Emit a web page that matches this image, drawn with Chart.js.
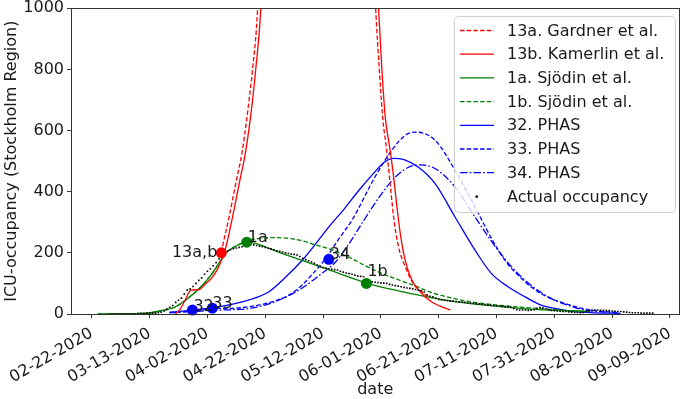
<!DOCTYPE html>
<html><head><meta charset="utf-8">
<script src="https://cdn.jsdelivr.net/npm/chart.js@4.4.1/dist/chart.umd.min.js"></script>
<style>html,body{margin:0;padding:0;background:#fff}#wrap{width:685px;height:399px}</style>
</head><body><div id="wrap"><canvas id="c" width="685" height="399"></canvas></div>
<script>
// x values are days after 02-22-2020
const tickDays = [0, 20, 40, 60, 80, 100, 120, 140, 160, 180, 200];
const tickLabels = ['02-22-2020','03-13-2020','04-02-2020','04-22-2020','05-12-2020','06-01-2020','06-21-2020','07-11-2020','07-31-2020','08-20-2020','09-09-2020'];
const yTicks = [0, 200, 400, 600, 800, 1000];

// 13a. Gardner et al. (dashed red) - the peak runs far off the top of the axes
const gardnerDays = [44.8, 45.2, 47.5, 49.8, 52.1, 54.4, 55.6, 57.3, 58.5, 97.0, 98.2, 99.4, 100.6, 102.0, 103.2, 104.4, 106.1, 108.4, 111.2, 114.7, 116.4];
const gardnerVals = [200, 220, 318, 427, 536, 699, 800, 990, 1300, 1300, 1000, 808, 645, 536, 427, 318, 220, 155, 100, 68, 57];
// 13b. Kamerlin et al. (solid red)
const kamerlinDays = [28.9, 30.5, 32.0, 34.3, 37.2, 38.9, 41.2, 43.4, 44.8, 46.4, 48.7, 51.0, 53.3, 55.6, 56.7, 58.4, 59.6, 97.8, 99.2, 100.3, 101.5, 103.2, 104.4, 105.5, 106.7, 108.4, 110.7, 114.1, 117.5, 122.2, 124.0];
const kamerlinVals = [0, 15, 40, 78, 80, 95, 115, 145, 175, 220, 318, 427, 536, 699, 800, 990, 1300, 1300, 1000, 808, 645, 536, 449, 355, 264, 176, 111, 68, 40, 19, 13];
// 1a. Sjödin et al. (solid green)
const sjodinADays = [2.1, 9.6, 18.3, 24.0, 28.6, 33.2, 37.8, 41.2, 44.7, 46.9, 50.4, 53.8, 57.0, 61.3, 65.8, 71.6, 77.4, 83.3, 88.9, 94.6, 100.2, 106.1, 111.8, 118.7, 124.3, 130.2, 141.6, 153.2, 164.6, 172.2];
const sjodinAVals = [0, 1, 2, 11, 22, 51, 89, 127, 176, 204, 225, 236, 230, 215, 198, 179, 160, 140, 121, 103, 88, 76, 64, 51, 42, 35, 24, 15, 11, 8];
// 1b. Sjödin et al. (dashed green)
const sjodinBDays = [2.1, 9.6, 18.3, 24.0, 28.6, 33.2, 37.8, 41.2, 44.7, 46.9, 50.4, 53.8, 57.9, 63.6, 68.2, 72.7, 77.4, 83.0, 88.9, 94.6, 100.2, 106.1, 111.8, 117.5, 124.3, 130.2, 141.6, 153.2, 164.6, 172.2];
const sjodinBVals = [0, 1, 2, 11, 22, 51, 89, 127, 176, 204, 225, 240, 247, 250, 247, 240, 226, 210, 186, 158, 133, 112, 92, 70, 53, 41, 28, 19, 11, 8];
// 32. PHAS (solid blue)
const phas32Days = [26.9, 34.9, 41.8, 48.7, 54.4, 61.3, 67.0, 72.8, 77.5, 82.0, 87.0, 92.0, 97.0, 101.0, 104.4, 108.0, 113.0, 118.7, 125.6, 132.5, 138.2, 144.0, 149.7, 155.4, 161.2, 166.9, 173.8, 182.9];
const phas32Vals = [5, 13, 20, 32, 46, 73, 120, 176, 230, 285, 340, 400, 455, 495, 509, 505, 480, 427, 318, 210, 133, 89, 57, 29, 17, 8, 4, 2];
// 33. PHAS (dashed blue)
const phas33Days = [26.9, 34.9, 41.7, 47.5, 54.4, 61.3, 68.2, 72.8, 75.1, 80.8, 85.4, 90.0, 98.0, 103.8, 108.5, 112.0, 118.7, 125.6, 132.5, 139.4, 144.0, 147.4, 152.0, 157.7, 163.5, 169.2, 173.8, 181.7];
const phas33Vals = [5, 10, 19, 18, 24, 37, 62, 95, 118, 180, 245, 307, 449, 536, 585, 595, 569, 471, 351, 228, 162, 128, 88, 55, 35, 19, 11, 5];
// 34. PHAS (dash-dot blue)
const phas34Days = [26.9, 34.9, 41.7, 54.4, 61.3, 67.0, 72.8, 78.5, 84.3, 89.0, 93.4, 100.3, 105.0, 110.0, 113.5, 118.7, 125.6, 132.5, 140.5, 148.5, 157.7, 164.6, 170.4, 174.9, 181.7];
const phas34Vals = [4, 8, 12, 18, 33, 55, 85, 125, 170, 230, 296, 394, 448, 482, 488, 476, 416, 318, 209, 122, 57, 29, 13, 8, 4];

// Actual ICU occupancy, one value per day starting 02-28-2020 (day 6)
const actualStartDay = 6;
const actualVals = [
  0,0,0,1,1,1,1,1,1,1,2,2,2,2,
  2,3,3,4,6,10,16,22,28,38,
  45,52,65,78,82,90,100,110,118,130,
  140,148,158,168,180,190,198,206,210,214,
  216,218,220,224,226,228,226,224,222,220,
  218,215,213,210,207,205,203,200,198,196,
  195,193,188,182,178,174,170,166,160,155,
  152,150,148,146,145,144,140,137,134,132,
  130,127,124,123,122,108,106,105,104,103,
  102,101,100,97,95,93,91,89,87,85,
  84,82,80,78,76,72,62,58,56,52,
  48,46,45,44,43,42,41,40,39,38,
  37,36,35,34,33,32,31,30,29,28,
  27,26,25,24,24,22,18,14,13,13,
  13,12,13,14,18,21,20,17,14,12,
  11,10,9,8,8,7,6,5,5,4,
  5,8,12,13,13,13,12,12,11,11,
  10,9,8,8,7,6,5,4,4,4,
  3,3,3,3,3
];

// Prediction-date markers
const markerLabels = ['13a,b', '1a', '32', '33', '34', '1b'];
const markerDays = [44.8, 53.6, 34.8, 41.7, 82.0, 95.0];
const markerVals = [200, 235, 13, 19, 179, 100];

const RED = '#ff0000', GREEN = '#008000', BLUE = '#0000ff';
const markerColors = [RED, GREEN, BLUE, BLUE, BLUE, GREEN];
const markerLabelOffsets = [[-4, 4, 'right'], [1, 0, 'left'], [1, 1, 'left'], [0, 0, 'left'], [1, 0, 'left'], [1, -7, 'left']];

const zip = (xs, ys) => xs.map((x, i) => ({x, y: ys[i]}));
const DASH = [4.5, 2.2];
const DASHDOT = [7.5, 2.2, 1.6, 2.2];
const FONT = 'DejaVu Sans, sans-serif';
const TXT = '#1a1a1a';

function lineDs(label, xs, ys, color, dash) {
  return {label, data: zip(xs, ys), showLine: true, borderColor: color, backgroundColor: color,
    borderWidth: 1.3, borderDash: dash, pointRadius: 0, pointHoverRadius: 0,
    cubicInterpolationMode: 'monotone', order: 3};
}

const datasets = [
  lineDs('13a. Gardner et al.', gardnerDays, gardnerVals, RED, DASH),
  lineDs('13b. Kamerlin et al.', kamerlinDays, kamerlinVals, RED, []),
  lineDs('1a. Sjödin et al.', sjodinADays, sjodinAVals, GREEN, []),
  lineDs('1b. Sjödin et al.', sjodinBDays, sjodinBVals, GREEN, DASH),
  lineDs('32. PHAS', phas32Days, phas32Vals, BLUE, []),
  lineDs('33. PHAS', phas33Days, phas33Vals, BLUE, DASH),
  lineDs('34. PHAS', phas34Days, phas34Vals, BLUE, DASHDOT),
  {label: 'Actual occupancy', data: actualVals.map((v, i) => ({x: actualStartDay + i, y: v})),
    showLine: false, pointRadius: 1.15, pointHoverRadius: 0, pointBackgroundColor: '#000', pointBorderWidth: 0,
    pointStyle: 'rect', order: 2, clip: 4, isLegendDot: true},
  {label: 'markers', data: zip(markerDays, markerVals), showLine: false, pointRadius: 5.5, pointHoverRadius: 0,
    pointBackgroundColor: markerColors, pointBorderWidth: 0, order: 1, clip: false, noLegend: true}
];

const frameAndLegend = {
  id: 'frameAndLegend',
  afterDatasetsDraw(chart) {
    const ctx = chart.ctx, a = chart.chartArea;
    const xs = chart.scales.x, ys = chart.scales.y;
    ctx.save();
    // marker labels
    ctx.font = '16px ' + FONT;
    ctx.fillStyle = TXT;
    ctx.textBaseline = 'alphabetic';
    markerLabels.forEach((t, i) => {
      const px = xs.getPixelForValue(markerDays[i]), py = ys.getPixelForValue(markerVals[i]);
      const o = markerLabelOffsets[i];
      ctx.textAlign = o[2];
      ctx.fillText(t, px + o[0], py + o[1]);
    });
    // frame (top/right spines)
    ctx.strokeStyle = '#333';
    ctx.lineWidth = 1;
    ctx.strokeRect(Math.round(a.left) + 0.5, Math.round(a.top) + 0.5, Math.round(a.right - a.left) - 1, Math.round(a.bottom - a.top));
    // legend box
    const L = {x: 454.5, y: 16.5, w: 221, h: 196, r: 4};
    ctx.beginPath();
    ctx.moveTo(L.x + L.r, L.y);
    ctx.arcTo(L.x + L.w, L.y, L.x + L.w, L.y + L.h, L.r);
    ctx.arcTo(L.x + L.w, L.y + L.h, L.x, L.y + L.h, L.r);
    ctx.arcTo(L.x, L.y + L.h, L.x, L.y, L.r);
    ctx.arcTo(L.x, L.y, L.x + L.w, L.y, L.r);
    ctx.closePath();
    ctx.fillStyle = 'rgba(255,255,255,0.8)';
    ctx.fill();
    ctx.strokeStyle = '#d0d0d0';
    ctx.stroke();
    const items = chart.data.datasets.filter(d => !d.noLegend);
    ctx.font = '16px ' + FONT;
    ctx.textAlign = 'left';
    ctx.textBaseline = 'middle';
    items.forEach((d, i) => {
      const cy = 30.5 + i * 23.7;
      if (d.isLegendDot) {
        ctx.fillStyle = '#000';
        ctx.fillRect(475.5, cy - 1, 2.4, 2.4);
      } else {
        ctx.strokeStyle = d.borderColor;
        ctx.lineWidth = d.borderWidth;
        ctx.setLineDash(d.borderDash || []);
        ctx.beginPath();
        ctx.moveTo(460, cy);
        ctx.lineTo(494, cy);
        ctx.stroke();
        ctx.setLineDash([]);
      }
      ctx.fillStyle = TXT;
      ctx.fillText(d.label, 507, cy + 1);
    });
    ctx.restore();
  }
};

const tickFont = {family: FONT, size: 16};
new Chart(document.getElementById('c'), {
  type: 'scatter',
  data: {datasets},
  options: {
    responsive: false,
    animation: false,
    devicePixelRatio: 1,
    events: [],
    layout: {padding: {top: 8.3, right: 0.4, left: 0, bottom: 0}},
    plugins: {legend: {display: false}, tooltip: {enabled: false}},
    scales: {
      x: {
        type: 'linear', position: 'bottom', min: -7.2, max: 203.3,
        afterBuildTicks: s => { s.ticks = tickDays.map(v => ({value: v})); },
        afterFit: s => { s.height = 85; s.paddingLeft = 0; s.paddingRight = 0; },
        ticks: {callback: v => tickLabels[tickDays.indexOf(v)], minRotation: 30, maxRotation: 30,
          autoSkip: false, font: tickFont, color: TXT, padding: 6},
        grid: {drawOnChartArea: false, drawTicks: true, tickLength: 4, color: '#333'},
        border: {display: true, color: '#333', width: 1},
        title: {display: true, text: 'date', font: tickFont, color: TXT, padding: {top: 0, bottom: 0}}
      },
      y: {
        type: 'linear', position: 'left', min: 0, max: 1000,
        afterBuildTicks: s => { s.ticks = yTicks.map(v => ({value: v})); },
        afterFit: s => { s.width = 71; s.paddingTop = 0; s.paddingBottom = 0; },
        ticks: {font: tickFont, color: TXT, padding: 3, callback: v => String(v)},
        grid: {drawOnChartArea: false, drawTicks: true, tickLength: 4, color: '#333'},
        border: {display: true, color: '#333', width: 1},
        title: {display: true, text: 'ICU-occupancy (Stockholm Region)', font: tickFont, color: TXT, padding: {top: 2, bottom: 0}}
      }
    }
  },
  plugins: [frameAndLegend]
});
</script></body></html>
